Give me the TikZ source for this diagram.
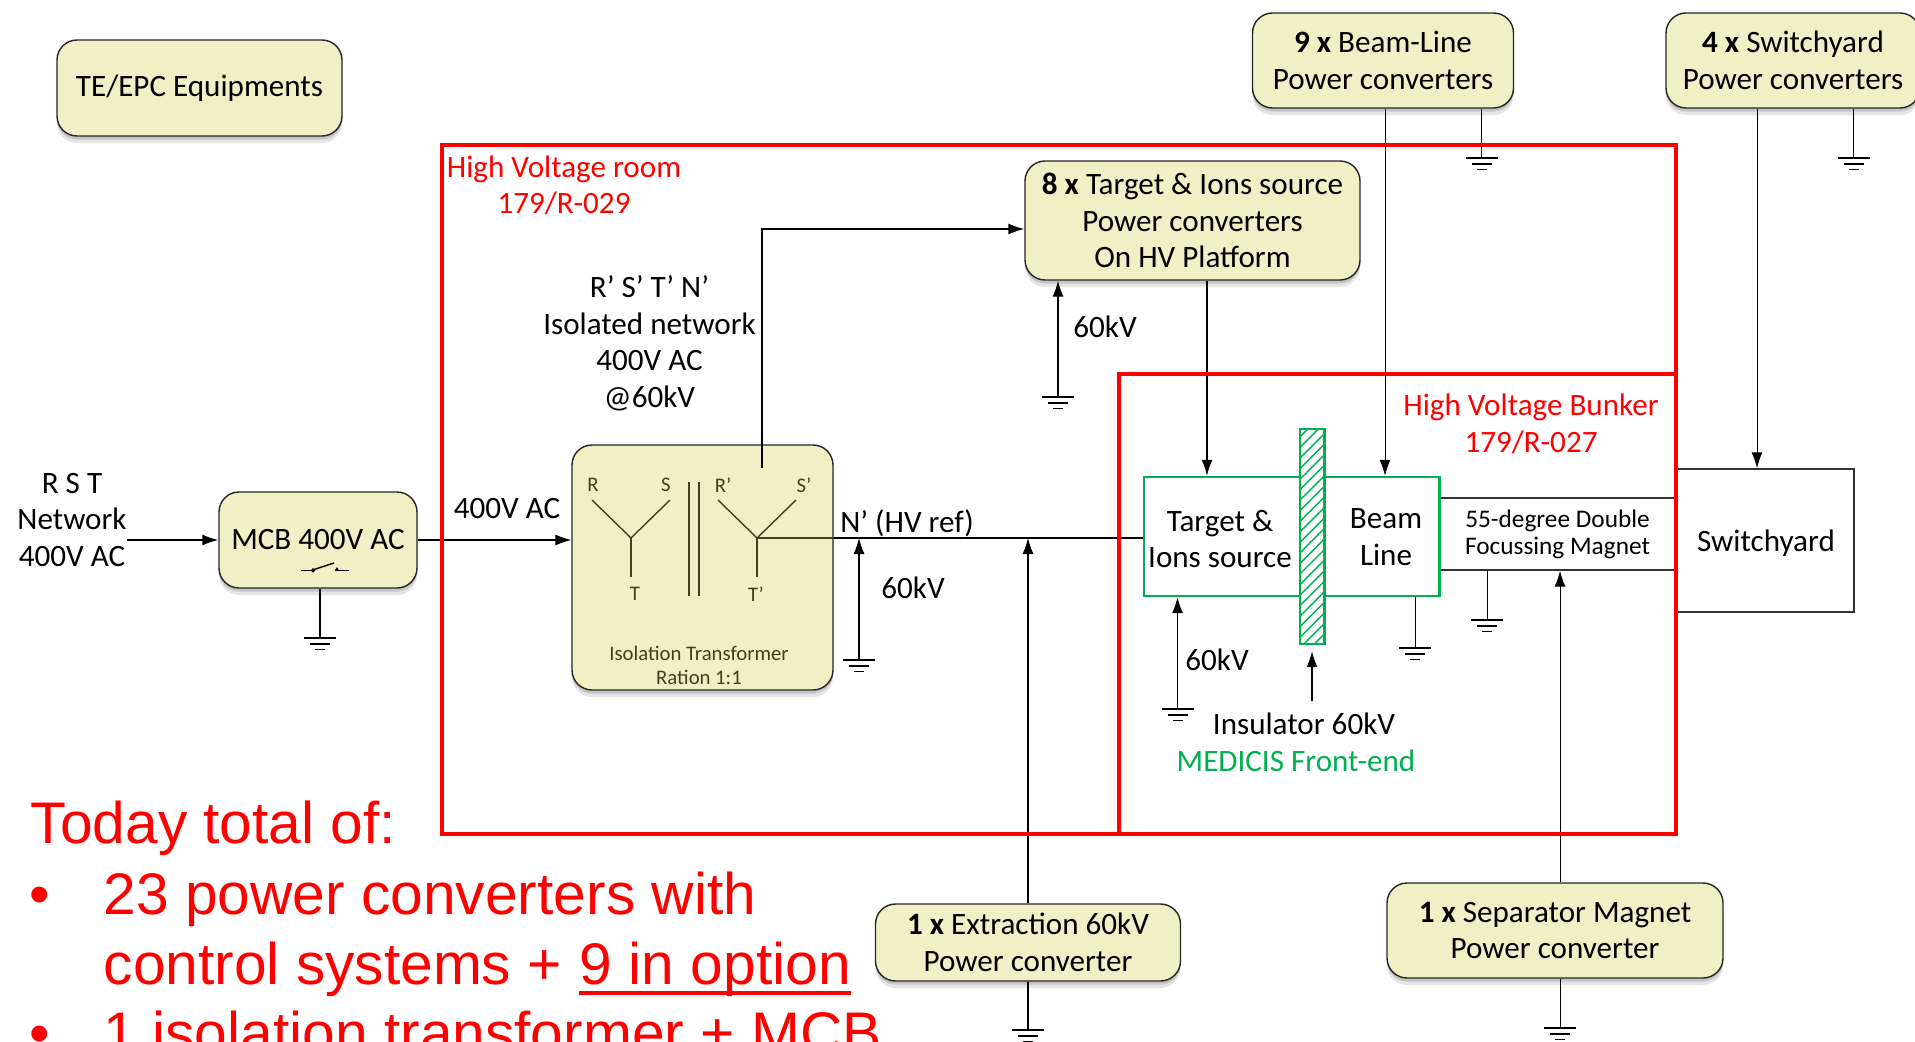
\documentclass[tikz,border=0pt]{standalone}
\usepackage{fontspec}
\setmainfont{Carlito}
\newfontfamily\arialfont{Liberation Sans}
\usetikzlibrary{arrows.meta,patterns,shadows}
\definecolor{boxolive}{RGB}{239,240,197}
\definecolor{inkolive}{RGB}{64,64,30}
\definecolor{frontgreen}{RGB}{0,176,80}
\newcommand{\bodysize}{\fontsize{8.85}{10.4}\selectfont}
\newcommand{\todaysize}{\arialfont\fontsize{16.7}{19.9}\selectfont}
\tikzset{
    pcbox/.style={draw=black!85, fill=boxolive, rounded corners=.2cm, align=center,
        inner sep=0pt, font=\bodysize,
        drop shadow={shadow xshift=0cm, shadow yshift=-.07cm, opacity=.1, fill=black},
        drop shadow={shadow xshift=0cm, shadow yshift=-.035cm, opacity=.14, fill=black}},
    txtlabel/.style={align=center, inner sep=0pt, font=\bodysize},
    redlabel/.style={txtlabel, red},
    winding/.style={inkolive, align=center, inner sep=0pt, font=\fontsize{5.9}{6.9}\selectfont},
    greenbox/.style={draw=frontgreen, line width=.7pt, inner sep=0pt},
    plainbox/.style={draw=black!80, align=center, inner sep=0pt},
    roomframe/.style={draw=red, line width=1.2pt, inner sep=0pt},
    today/.style={red, anchor=base west, inner sep=0pt, font=\todaysize},
    feed/.style={-{Latex[length=1.6mm,width=1.1mm]}},
    fine/.style={line width=.3pt},
    earth/.pic={
        \draw (-.16,0) -- (.16,0);
        \draw (-.1,-.06) -- (.1,-.06);
        \draw (-.05,-.115) -- (.05,-.115);
    }
}
\begin{document}
\begin{tikzpicture}
    \useasboundingbox (0,0) rectangle (19.15,10.41);

    % Equipment boxes
    \node[pcbox, minimum width=2.85cm, minimum height=.96cm] (tepc) at (1.995,9.53) {TE/EPC Equipments};
    \node[pcbox, minimum width=2.61cm, minimum height=.95cm] (beampc) at (13.83,9.805) {\textbf{9 x} Beam-Line\\Power converters};
    \node[pcbox, minimum width=2.54cm, minimum height=.95cm] (yardpc) at (17.93,9.805) {\textbf{4 x} Switchyard\\Power converters};
    \node[pcbox, minimum width=3.35cm, minimum height=1.19cm] (tgtpc) at (11.925,8.205) {\textbf{8 x} Target \& Ions source\\Power converters\\On HV Platform};
    \node[pcbox, minimum width=1.98cm, minimum height=.96cm] (mcb) at (3.18,5.01) {MCB 400V AC};
    \node[pcbox, minimum width=2.61cm, minimum height=2.45cm] (trafo) at (7.025,4.735) {};
    \node[pcbox, minimum width=3.05cm, minimum height=.77cm] (extpc) at (10.28,.985) {\textbf{1 x} Extraction 60kV\\Power converter};
    \node[pcbox, minimum width=3.36cm, minimum height=.95cm] (seppc) at (15.55,1.105) {\textbf{1 x} Separator Magnet\\Power converter};

    % Beam line elements
    \node[plainbox, minimum width=2.37cm, minimum height=.72cm, font=\fontsize{7.2}{7.7}\selectfont] (magnet) at (15.575,5.07) {55-degree Double\\Focussing Magnet};
    \node[plainbox, minimum width=1.78cm, minimum height=1.43cm] (yard) at (17.65,5.005) {};
    \node[greenbox, minimum width=1.56cm, minimum height=1.19cm] (tgtsrc) at (12.22,5.045) {};
    \node[greenbox, minimum width=1.145cm, minimum height=1.19cm] (beamln) at (13.82,5.045) {};
    \node[draw=frontgreen, line width=.7pt, fill=white, pattern=north east lines, pattern color=frontgreen, minimum width=.245cm, minimum height=2.15cm, inner sep=0pt] (insul) at (13.12,5.045) {};

    % Transformer windings
    \coordinate (neutral) at (7.57,5.03);
    \coordinate (primstar) at (6.31,5.03);
    \draw[inkolive] (5.92,5.41) -- (primstar) -- (6.70,5.41);
    \draw[inkolive] (primstar) -- (6.31,4.64);
    \draw[inkolive] (7.18,5.41) -- (neutral) -- (7.96,5.41);
    \draw[inkolive] (neutral) -- (7.57,4.64);
    \draw[inkolive] (6.89,5.59) -- (6.89,4.45);
    \draw[inkolive] (6.99,5.59) -- (6.99,4.45);
    \node[winding] (wr) at (5.93,5.56) {R};
    \node[winding] (ws) at (6.66,5.56) {S};
    \node[winding] (wrp) at (7.23,5.56) {R’};
    \node[winding] (wsp) at (8.04,5.56) {S’};
    \node[winding] (wt) at (6.35,4.47) {T};
    \node[winding] (wtp) at (7.56,4.47) {T’};
    \node[winding] (trafolbl) at (6.99,3.76) {Isolation Transformer\\Ration 1:1};

    % Breaker symbol
    \draw (3.01,4.707) -- (3.12,4.707);
    \draw (3.14,4.715) -- (3.34,4.78);
    \draw (3.35,4.707) -- (3.49,4.707);
    \draw[fill=white] (3.13,4.707) circle (.013);
    \fill (3.35,4.707) -- (3.39,4.707) -- (3.37,4.74) -- cycle;

    % Ground points
    \coordinate (gndmcb) at (3.20,4.03);
    \coordinate (gndtrafo) at (8.59,3.81);
    \coordinate (gndtgtpc) at (10.58,6.44);
    \coordinate (gndbeampc) at (14.815,8.83);
    \coordinate (gndyardpc) at (18.535,8.83);
    \coordinate (gndtgt) at (11.775,3.32);
    \coordinate (gndbeam) at (14.15,3.93);
    \coordinate (gndmag) at (14.87,4.21);
    \coordinate (gndext) at (10.28,.11);
    \coordinate (gndsep) at (15.60,.13);
    \pic at (gndmcb) {earth};
    \pic at (gndtrafo) {earth};
    \pic at (gndtgtpc) {earth};
    \pic at (gndbeampc) {earth};
    \pic at (gndyardpc) {earth};
    \pic at (gndtgt) {earth};
    \pic at (gndbeam) {earth};
    \pic at (gndmag) {earth};
    \pic at (gndext) {earth};
    \pic at (gndsep) {earth};

    % Connectors
    \coordinate (netin) at (1.27,5.01);
    \coordinate (isotap) at (7.62,5.73);
    \coordinate (isocorner) at (7.62,8.12);
    \coordinate (tgtdrop) at (12.07,7);
    \coordinate (beamdrop) at (13.85,7);
    \coordinate (yarddrop) at (17.57,7);
    \coordinate (insarrow) at (13.12,3.40);
    \draw[feed] (netin) -- (mcb);
    \draw[feed, fine] (mcb.east) -- (mcb.east -| trafo.west);
    \draw (mcb.south -| gndmcb) -- (gndmcb);
    \draw[feed] (isotap) -- (isocorner) -- (tgtpc.west |- isocorner);
    \draw[inkolive] (neutral) -- (trafo.east |- neutral);
    \draw[fine] (trafo.east |- neutral) -- (tgtsrc.west |- neutral);
    \draw[feed, fine] (gndtrafo) -- (gndtrafo |- neutral);
    \draw[feed, fine] (extpc.north) -- (extpc.north |- neutral);
    \draw[fine] (extpc.south) -- (gndext);
    \draw[feed, fine] (gndtgtpc) -- (gndtgtpc |- tgtpc.south);
    \draw[feed] (tgtpc.south -| tgtdrop) -- (tgtsrc.north -| tgtdrop);
    \draw[feed, fine] (beampc.south -| beamdrop) -- (beamln.north -| beamdrop);
    \draw (beampc.south -| gndbeampc) -- (gndbeampc);
    \draw[feed, fine] (yardpc.south -| yarddrop) -- (yard.north -| yarddrop);
    \draw (yardpc.south -| gndyardpc) -- (gndyardpc);
    \draw[feed, fine] (gndtgt) -- (gndtgt |- tgtsrc.south);
    \draw[fine] (beamln.south -| gndbeam) -- (gndbeam);
    \draw[fine] (magnet.south -| gndmag) -- (gndmag);
    \draw[feed, fine, shorten >=.6mm] (insarrow) -- (insul.south);
    \draw[feed, fine] (seppc.north -| gndsep) -- (magnet.south -| gndsep);
    \draw[fine] (seppc.south -| gndsep) -- (gndsep);

    % Room outlines
    \node[roomframe, minimum width=12.34cm, minimum height=6.89cm] (hvroom) at (10.59,5.515) {};
    \node[roomframe, minimum width=5.57cm, minimum height=4.60cm] (bunker) at (13.975,4.37) {};

    % Labels
    \node[txtlabel] (netlbl) at (.72,5.21) {R S T\\Network\\400V AC};
    \node[txtlabel] (inlbl) at (5.07,5.32) {400V AC};
    \node[redlabel] (roomlbl) at (5.64,8.555) {High Voltage room\\179/R-029};
    \node[txtlabel] (isolbl) at (6.495,6.975) {R’ S’ T’ N’\\Isolated network\\400V AC\\@60kV};
    \node[txtlabel] (nlbl) at (9.07,5.18) {N’ (HV ref)};
    \node[txtlabel] (kvtrafo) at (9.13,4.53) {60kV};
    \node[txtlabel] (kvtgtpc) at (11.05,7.14) {60kV};
    \node[redlabel] (bunkerlbl) at (15.31,6.17) {High Voltage Bunker\\179/R-027};
    \node[txtlabel] (tgtlbl) at (12.20,5.02) {Target \&\\Ions source};
    \node[txtlabel] (beamlbl) at (13.86,5.04) {Beam\\Line};
    \node[txtlabel] (yardlbl) at (17.66,4.98) {Switchyard};
    \node[txtlabel] (kvtgt) at (12.17,3.81) {60kV};
    \node[txtlabel] (inslbl) at (13.04,3.17) {Insulator 60kV};
    \node[txtlabel, text=frontgreen] (frontlbl) at (12.96,2.80) {MEDICIS Front-end};

    % Totals
    \node[today] (todayln) at (.30,1.98) {Today total of:};
    \node[today] (bulone) at (.285,1.27) {\textbullet};
    \node[today] (powerln) at (1.03,1.27) {23 power converters with};
    \node[today] (ctrlln) at (1.03,.57) {control systems +};
    \node[today] (optln) at ([xshift=.165cm]ctrlln.base east) {9 in option};
    \draw[red, line width=.9pt] ([yshift=-.09cm]optln.base west) -- ([yshift=-.09cm]optln.base east);
    \node[today] (bultwo) at (.285,-.12) {\textbullet};
    \node[today] (isoln) at (1.03,-.12) {1 isolation transformer + MCB};
\end{tikzpicture}
\end{document}
